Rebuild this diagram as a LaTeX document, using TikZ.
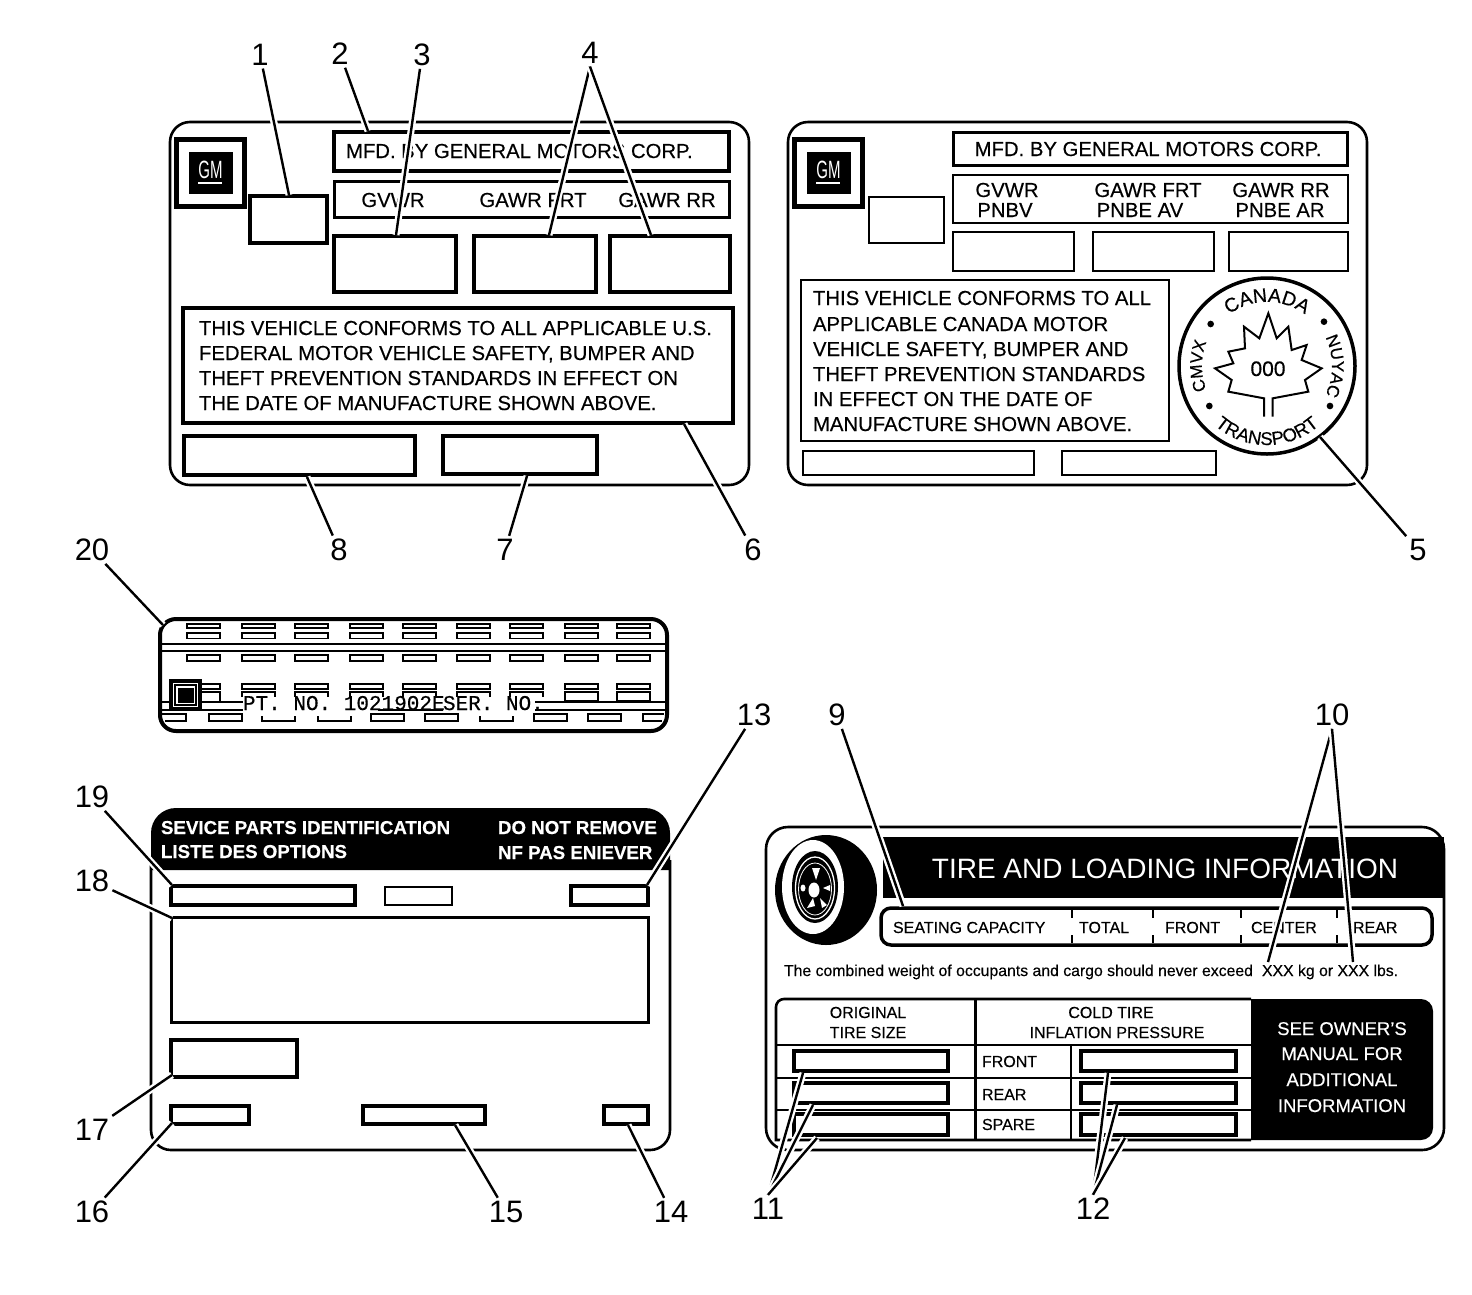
\documentclass[tikz,border=0pt]{standalone}
\usepackage{fontspec}
\setmainfont[FakeBold=0.35]{Liberation Sans}
\newfontfamily\plainf{Liberation Sans}
\newfontfamily\monof[FakeBold=0.5]{Liberation Mono}
\newfontfamily\gmf[FakeStretch=0.6]{Liberation Sans}
\usetikzlibrary{decorations.text}
\newcounter{tc}
\newcommand{\fz}[1]{\fontsize{#1}{#1}\selectfont}
% text, left aligned, baseline at x,y
\newcommand{\tl}[5][black]{\stepcounter{tc}\node[txt,text=#1,anchor=base west] (t\arabic{tc}) at (#2,#3) {\fz{#4}#5};}
% text, centred, baseline at x,y
\newcommand{\tc}[5][black]{\stepcounter{tc}\node[txt,text=#1,anchor=base] (t\arabic{tc}) at (#2,#3) {\fz{#4}#5};}
% box by corners
\newcommand{\bx}[6][]{\node[boxn,#1,minimum width={(#5-#3)*1pt},minimum height={(#6-#4)*1pt}] (#2) at ({(#3+#5)/2},{(#4+#6)/2}) {};}
\newcommand{\lbl}[4]{\node[lblnode] (#1) at (#2,#3+0.7) {#4};}
\newcommand{\lead}[2]{\draw[halo] (#1) -- (#2); \draw[leader] (#1) -- (#2);}
\tikzset{
  txt/.style={inner sep=0pt,outer sep=0pt},
  boxn/.style={draw=black,fill=white,inner sep=0pt,outer sep=0pt,line width=3.5pt},
  thin box/.style={line width=2.2pt},
  lblnode/.style={inner sep=3pt,font=\plainf\fz{31}},
  halo/.style={white,line width=7pt},
  leader/.style={black,line width=2.4pt},
  panel/.style={boxn,line width=2.6pt,rounded corners=20pt},
}
\begin{document}
\begin{tikzpicture}[x=1pt,y=-1pt]
\useasboundingbox (0,0) rectangle (1472,1294);
\fill[white] (0,0) rectangle (1472,1294);

%%%%% Panel 1
\bx[panel]{P1}{170}{122}{749}{485}
\bx[line width=5pt]{g1}{176}{139}{244}{206}
\bx[fill=black,draw=black,line width=0pt]{g1i}{189}{152}{232}{193}
\node[txt,text=white] (g1t) at (210.5,170) {\gmf\fz{25}GM};
\draw[white,line width=1.2pt] (198,183) -- (222,183);
\bx[line width=4pt]{b1}{250}{196}{327}{243}
\bx[line width=4pt]{b2}{334}{132}{729}{171}
\tl{346}{158}{20.3}{MFD. BY GENERAL MOTORS CORP.}
\bx[line width=3pt]{b2a}{334}{181}{729}{217}
\tc{393}{207}{20.3}{GVWR}
\tc{533}{207}{20.3}{GAWR FRT}
\tc{667}{207}{20.3}{GAWR RR}
\bx[line width=4pt]{b3}{334}{236}{456}{292}
\bx[line width=4pt]{b4a}{474}{236}{596}{292}
\bx[line width=4pt]{b4b}{610}{236}{730}{292}
\bx[line width=4pt]{b6}{183}{308}{733}{423}
\tl{199}{335}{20.3}{THIS VEHICLE CONFORMS TO ALL APPLICABLE U.S.}
\tl{199}{360}{20.3}{FEDERAL MOTOR VEHICLE SAFETY, BUMPER AND}
\tl{199}{385}{20.3}{THEFT PREVENTION STANDARDS IN EFFECT ON}
\tl{199}{410}{20.3}{THE DATE OF MANUFACTURE SHOWN ABOVE.}
\bx[line width=4pt]{b8}{184}{436}{415}{475}
\bx[line width=4pt]{b7}{443}{436}{597}{474}

%%%%% Panel 2
\bx[panel]{P2}{788}{122}{1367}{485}
\bx[line width=5pt]{g2}{794}{139}{862}{206}
\bx[fill=black,draw=black,line width=0pt]{g2i}{807}{152}{850}{193}
\node[txt,text=white] (g2t) at (828.5,170) {\gmf\fz{25}GM};
\draw[white,line width=1.2pt] (816,183) -- (840,183);
\bx[thin box]{c1}{869}{197}{944}{243}
\bx[line width=3pt]{c2}{953}{132}{1347}{165}
\tc{1148}{156}{20.3}{MFD. BY GENERAL MOTORS CORP.}
\bx[line width=2.6pt]{c3}{953}{175}{1348}{223}
\tc{1007}{197}{20.3}{GVWR}
\tc{1005}{217}{20.3}{PNBV}
\tc{1148}{197}{20.3}{GAWR FRT}
\tc{1140}{217}{20.3}{PNBE AV}
\tc{1281}{197}{20.3}{GAWR RR}
\tc{1280}{217}{20.3}{PNBE AR}
\bx[thin box]{c4}{953}{232}{1074}{271}
\bx[thin box]{c5}{1093}{232}{1214}{271}
\bx[thin box]{c6}{1229}{232}{1348}{271}
\bx[thin box]{c7}{801}{280}{1169}{441}
\tl{813}{305}{20.3}{THIS VEHICLE CONFORMS TO ALL}
\tl{813}{331}{20.3}{APPLICABLE CANADA MOTOR}
\tl{813}{356}{20.3}{VEHICLE SAFETY, BUMPER AND}
\tl{813}{381}{20.3}{THEFT PREVENTION STANDARDS}
\tl{813}{406}{20.3}{IN EFFECT ON THE DATE OF}
\tl{813}{431}{20.3}{MANUFACTURE SHOWN ABOVE.}
\bx[thin box]{c8}{803}{451}{1034}{475}
\bx[thin box]{c9}{1062}{451}{1216}{475}

% stamp
\node[draw=black,fill=white,circle,line width=3.5pt,minimum size=176pt,inner sep=0pt,outer sep=0pt] (stamp) at (1267,366) {};
\begin{scope}[shift={(1160,270)},x=0.3333pt,y=-0.3333pt]
 \draw[line width=2pt,line join=miter] (312,440)--(312,385)--(205,365)--(215,330)--(165,295)--(220,280)--(205,245)--(255,235)--(252,170)--(298,205)--(325,130)--(350,205)--(385,170)--(395,240)--(440,225)--(425,270)--(485,295)--(435,330)--(445,365)--(338,385)--(338,440);
 \fill (152,162) circle[radius=10] (492,155) circle[radius=10] (148,408) circle[radius=10] (510,408) circle[radius=10];
\end{scope}
\tc{1268}{376}{21}{000}
\begin{scope}[shift={(1267,366)},x=1pt,y=1pt]
 \path[decorate,decoration={text along path,text align=center,text={|\fz{19.5}|CANADA}}] (145:64pt) arc[start angle=145,end angle=35,radius=64pt];
 \path[decorate,decoration={text along path,text align=center,text={|\fz{17}|CMVX}}] (230:65pt) arc[start angle=230,end angle=130,radius=65pt];
 \path[decorate,decoration={text along path,text align=center,text={|\fz{17}|NUYAC}}] (50:65pt) arc[start angle=50,end angle=-50,radius=65pt];
 \path[decorate,decoration={text along path,text align=center,text={|\fz{18.5}|TRANSPORT}}] (200:79pt) arc[start angle=200,end angle=340,radius=79pt];
\end{scope}

%%%%% Panel 20
\bx[line width=4pt,rounded corners=16pt]{P20}{160}{619}{667}{731}
\foreach \x in {187,242,295,350,403,457,510,565,617}{
  \draw[line width=1.8pt] (\x,624) rectangle ++(33,4);
  \draw[line width=1.8pt] (\x,633) rectangle ++(33,5.5);
  \draw[line width=1.8pt] (\x,655) rectangle ++(33,6);
  \draw[line width=2pt] (\x,684) rectangle ++(33,5);
}
\draw[line width=2.4pt] (161,644) -- (666,644);
\draw[line width=2pt] (161,651) -- (666,651);
\draw[line width=1.8pt] (187,692) -- ++(33,0) -- ++(0,9);
\foreach \x in {242,295,350,403,457,510}{\draw[line width=1.8pt] (\x,697) -- (\x,692) -- ++(33,0) -- ++(0,5);}
\foreach \x in {565,617}{\draw[line width=1.8pt] (\x,692) rectangle ++(33,9);}
\draw[line width=2.2pt] (162,702) -- (243,702) (535,702) -- (666,702);
\draw[line width=1.8pt] (162,710) -- (243,710) (378,710) -- (443,710) (535,710) -- (666,710);
\draw[line width=1.8pt] (162,714) -- (186,714) -- (186,721) -- (165,721);
\foreach \x in {209,371,425,534,588}{\draw[line width=1.8pt] (\x,714) rectangle ++(33,7);}
\foreach \x in {262,318,480}{\draw[line width=1.8pt] (\x,716) -- (\x,721) -- ++(33,0) -- ++(0,-5);}
\draw[line width=1.8pt] (664,714) -- (643,714) -- (643,721) -- (662,721);
\bx[line width=3.5pt]{g3}{171}{681}{200}{709}
\bx[line width=1.5pt]{g3a}{175}{685}{196}{705}
\bx[fill=black,line width=0pt]{g3b}{178}{688}{193}{702}
\node[txt,anchor=base west,font=\monof\fz{21}] (pt) at (243,710) {PT. NO. 1021902E};
\node[txt,anchor=base west,font=\monof\fz{21}] (ser) at (443,710) {SER. NO.};

%%%%% Panel 4
\draw[line width=2.6pt,rounded corners=20pt] (151,860) -- (151,1150) -- (670,1150) -- (670,860);
\fill (151,870) {[rounded corners=25pt] -- (151,808) -- (670,808)} -- (670,870) -- cycle;
\tl[white]{161}{834}{18.7}{\bfseries SEVICE PARTS IDENTIFICATION}
\tl[white]{161}{858}{18.7}{\bfseries LISTE DES OPTIONS}
\tl[white]{498}{834}{18.7}{\bfseries DO NOT REMOVE}
\tl[white]{498}{859}{18.7}{\bfseries NF PAS ENIEVER}
\bx{d19}{171}{886}{355}{905}
\bx[thin box]{d0}{385}{887}{452}{905}
\bx{d13}{571}{886}{648}{905}
\bx[line width=3pt]{d18}{171}{917}{648}{1022}
\bx{d17}{171}{1040}{297}{1077}
\bx{d16}{171}{1106}{249}{1124}
\bx{d15}{363}{1106}{485}{1124}
\bx{d14}{604}{1106}{648}{1124}

%%%%% Panel 5
\bx[panel,rounded corners=22pt]{P5}{766}{827}{1444}{1150}
\fill (883,837) rectangle (1444,898);
\node[txt,text=white,anchor=base] (title) at (1165,878) {\plainf\fz{28}TIRE AND LOADING INFORMATION};
% tire
\fill[black] (826,890) ellipse[x radius=51,y radius=55];
\fill[white] (813,887) ellipse[x radius=31,y radius=47];
\fill[black] (815,887) ellipse[x radius=23,y radius=36];
\draw[white,line width=1.3pt] (815,888) ellipse[x radius=19.5,y radius=31];
\draw[white,line width=0.8pt] (815,889) ellipse[x radius=16.5,y radius=26];
\fill[white] (814,890) ellipse[x radius=5.5,y radius=7.5];
\fill[white] (812,868) -- (820,868) -- (816,880) -- cycle;
\fill[white] (823,888) -- (830,885) -- (830,891) -- cycle;
\fill[white] (803,888) ellipse[x radius=2.5,y radius=3.5];
\fill[white] (807,908) -- (813,898) -- (815,906) -- cycle;
\fill[white] (820,898) -- (827,905) -- (822,908) -- cycle;
% seating
\bx[line width=3.5pt,rounded corners=10pt]{e9}{881}{908}{1432}{945}
\foreach \x in {1072,1153,1241,1337}{\draw[line width=1.6pt] (\x,910) -- (\x,918) (\x,935) -- (\x,943);}
\tl{893}{933}{16}{SEATING CAPACITY}
\tl{1079}{933}{16}{TOTAL}
\tl{1165}{933}{16}{FRONT}
\tl{1251}{933}{16}{CENTER}
\tl{1353}{933}{16}{REAR}
\tl{784}{976}{15.8}{The combined weight of occupants and cargo should never exceed}
\tl{1262}{976}{15.8}{XXX kg or XXX lbs.}
% table
\fill (1251,999) {[rounded corners=12pt] -- (1433,999) -- (1433,1140)} -- (1251,1140) -- cycle;
\draw[line width=2.6pt] (1251,999) {[rounded corners=8pt] -- (776,999)} -- (776,1140) -- (1251,1140);
\draw[line width=3pt] (975,999) -- (975,1140);
\draw[line width=2.6pt] (776,1045) -- (1251,1045);
\draw[line width=2.2pt] (776,1078) -- (1251,1078) (776,1110) -- (1251,1110);
\draw[line width=2pt] (1071,1045) -- (1071,1140);
\tc{868}{1018}{16}{ORIGINAL}
\tc{868}{1038}{16}{TIRE SIZE}
\tc{1111}{1018}{16}{COLD TIRE}
\tc{1117}{1038}{16}{INFLATION PRESSURE}
\tl{982}{1067}{16}{FRONT}
\tl{982}{1100}{16}{REAR}
\tl{982}{1130}{16}{SPARE}
\bx{f1}{794}{1051}{948}{1071}
\bx{f2}{794}{1083}{948}{1103}
\bx{f3}{794}{1114}{948}{1135}
\bx{h1}{1081}{1051}{1236}{1071}
\bx{h2}{1081}{1083}{1236}{1103}
\bx{h3}{1081}{1114}{1236}{1135}
\tc[white]{1342}{1035}{18.5}{SEE OWNER'S}
\tc[white]{1342}{1060}{18.5}{MANUAL FOR}
\tc[white]{1342}{1086}{18.5}{ADDITIONAL}
\tc[white]{1342}{1112}{18.5}{INFORMATION}

%%%%% Labels
\lbl{l1}{260}{54}{1}
\lbl{l2}{340}{53}{2}
\lbl{l3}{422}{54}{3}
\lbl{l4}{590}{52}{4}
\lbl{l5}{1418}{549}{5}
\lbl{l6}{753}{549}{6}
\lbl{l7}{505}{549}{7}
\lbl{l8}{339}{549}{8}
\lbl{l9}{837}{714}{9}
\lbl{l10}{1332}{714}{10}
\lbl{l11}{768}{1208}{11}
\lbl{l12}{1093}{1208}{12}
\lbl{l13}{754}{714}{13}
\lbl{l14}{671}{1211}{14}
\lbl{l15}{506}{1211}{15}
\lbl{l16}{92}{1211}{16}
\lbl{l17}{92}{1129}{17}
\lbl{l18}{92}{880}{18}
\lbl{l19}{92}{796}{19}
\lbl{l20}{92}{549}{20}

%%%%% Leader ends
\coordinate (e1) at (289,195);
\coordinate (e2) at (368,131);
\coordinate (e3) at (396,235);
\coordinate (e4a) at (549,235);
\coordinate (e4b) at (651,235);
\coordinate (e5) at (1320,437);
\coordinate (e6) at (684,424);
\coordinate (e7) at (527,476);
\coordinate (e8) at (307,477);
\coordinate (e9) at (903,906);
\coordinate (e10a) at (1268,962);
\coordinate (e10b) at (1353,962);
\coordinate (e11a) at (803,1073);
\coordinate (e11b) at (813,1105);
\coordinate (e11c) at (817,1138);
\coordinate (e12a) at (1108,1073);
\coordinate (e12b) at (1117,1105);
\coordinate (e12c) at (1125,1138);
\coordinate (e13) at (647,885);
\coordinate (e14) at (628,1125);
\coordinate (e15) at (455,1125);
\coordinate (e16) at (172,1123);
\coordinate (e17) at (172,1075);
\coordinate (e18) at (172,918);
\coordinate (e19) at (172,885);
\coordinate (e20) at (163,625);

\lead{l1}{e1}\lead{l2}{e2}\lead{l3}{e3}
\lead{l4.south}{e4a}\lead{l4.south}{e4b}
\lead{l5}{e5}\lead{l6}{e6}\lead{l7}{e7}\lead{l8}{e8}\lead{l9}{e9}
\lead{l10.south}{e10a}\lead{l10.south}{e10b}
\lead{l11.north}{e11a}\lead{l11.north}{e11b}\lead{l11.north}{e11c}
\lead{l12.north}{e12a}\lead{l12.north}{e12b}\lead{l12.north}{e12c}
\lead{l13}{e13}\lead{l14}{e14}\lead{l15}{e15}\lead{l16}{e16}\lead{l17}{e17}\lead{l18}{e18}\lead{l19}{e19}\lead{l20}{e20}
\end{tikzpicture}
\end{document}
